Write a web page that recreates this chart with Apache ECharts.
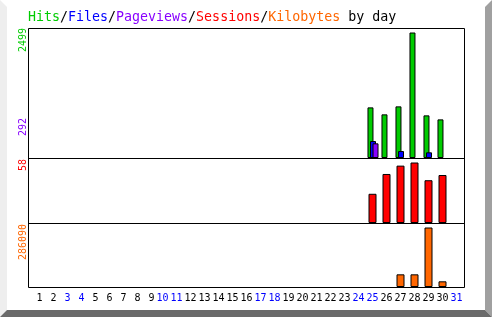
<!DOCTYPE html>
<html><head><meta charset="utf-8">
<script src="https://cdn.jsdelivr.net/npm/echarts@6/dist/echarts.min.js"></script>
<style>html,body{margin:0;padding:0;background:#fff}#c{width:492px;height:317px}</style>
</head><body><div id="c"></div>
<script>
// ---- data ----
const days = ['1','2','3','4','5','6','7','8','9','10','11','12','13','14','15','16','17','18','19','20','21','22','23','24','25','26','27','28','29','30','31'];
const weekendDays = ['3','4','10','11','17','18','24','25','31'];
const hits      = [0,0,0,0,0,0,0,0,0,0,0,0,0,0,0,0,0,0,0,0,0,0,0,0,1008,869,1028,2499,849,769,0];
const files     = [0,0,0,0,0,0,0,0,0,0,0,0,0,0,0,0,0,0,0,0,0,0,0,0,338,0,139,0,113,0,0];
const pageviews = [0,0,0,0,0,0,0,0,0,0,0,0,0,0,0,0,0,0,0,0,0,0,0,0,292,0,0,0,0,0,0];
const sessions  = [0,0,0,0,0,0,0,0,0,0,0,0,0,0,0,0,0,0,0,0,0,0,0,0,28,47,55,58,41,46,0];
const kilobytes = [0,0,0,0,0,0,0,0,0,0,0,0,0,0,0,0,0,0,0,0,0,0,0,0,0,0,60900,60900,286090,27310,0];

const C = {hits:'#00cc00', files:'#0000ff', pages:'#8800ff', sessions:'#ff0000', kbytes:'#ff6600'};
const MONO = '"DejaVu Sans Mono", "Liberation Mono", monospace';

const chart = echarts.init(document.getElementById('c'), null, {renderer:'canvas'});

// zero days draw no bar at all
const nz = arr => arr.map(v => (v > 0 ? v : '-'));

function xAxisFor(gi, showLabels) {
  return {
    type:'category', gridIndex: gi, data: days, boundaryGap: true,
    axisLine:{show:false}, axisTick:{show:false}, splitLine:{show:false},
    axisLabel: showLabels ? {
      show:true, interval:0, margin:6, fontFamily: MONO, fontSize:10,
      formatter: v => (v.length < 2 ? ' ' + v : v),
      color: v => (weekendDays.includes(v) ? '#0000ff' : '#000000')
    } : {show:false}
  };
}
function yAxisFor(gi, ratio) {
  return { type:'value', gridIndex: gi, min:0, max: v => v.max * ratio, show:false };
}
const barBorder = {borderColor:'#000', borderWidth:1};

const option = {
  animation:false,
  backgroundColor:'#ffffff',
  grid:[
    {left:30, width:434, top:28, height:130},
    {left:29.5, width:434, top:158, height:65},
    {left:29.5, width:434, top:223, height:64}
  ],
  xAxis:[xAxisFor(0,false), xAxisFor(1,false), xAxisFor(2,true)],
  yAxis:[yAxisFor(0,130/125.5), yAxisFor(1,65/60.5), yAxisFor(2,64/59.5)],
  series:[
    {name:'Hits', type:'bar', xAxisIndex:0, yAxisIndex:0, data:nz(hits), barWidth:6, barGap:'-58%',
     itemStyle:Object.assign({color:C.hits}, barBorder)},
    {name:'Files', type:'bar', xAxisIndex:0, yAxisIndex:0, data:nz(files), barWidth:6, barGap:'-58%',
     itemStyle:Object.assign({color:C.files}, barBorder)},
    {name:'Pageviews', type:'bar', xAxisIndex:0, yAxisIndex:0, data:nz(pageviews), barWidth:6, barGap:'-58%',
     itemStyle:Object.assign({color:C.pages}, barBorder)},
    {name:'Sessions', type:'bar', xAxisIndex:1, yAxisIndex:1, data:nz(sessions), barWidth:8,
     itemStyle:Object.assign({color:C.sessions}, barBorder)},
    {name:'Kilobytes', type:'bar', xAxisIndex:2, yAxisIndex:2, data:nz(kilobytes), barWidth:8,
     itemStyle:Object.assign({color:C.kbytes}, barBorder)}
  ],
  graphic:[
    // bevel border
    {type:'polygon', z:0, shape:{points:[[0,0],[7,7],[7,310],[0,317]]}, style:{fill:'#eeeeee'}},
    {type:'polygon', z:0, shape:{points:[[492,0],[492,317],[485,310],[485,7]]}, style:{fill:'#a0a0a0'}},
    {type:'polygon', z:0, shape:{points:[[0,317],[7,310],[485,310],[492,317]]}, style:{fill:'#6a6a6a'}},
    // frame and dividers
    {type:'rect', z:5, silent:true, shape:{x:28.5, y:28.5, width:436, height:259}, style:{fill:null, stroke:'#000', lineWidth:1}},
    {type:'line', z:5, shape:{x1:28, y1:158.5, x2:465, y2:158.5}, style:{stroke:'#000', lineWidth:1}},
    {type:'line', z:5, shape:{x1:28, y1:223.5, x2:465, y2:223.5}, style:{stroke:'#000', lineWidth:1}},
    // title
    {type:'text', z:6, x:28, y:18, style:{
      text:'{g|Hits}{k|/}{b|Files}{k|/}{p|Pageviews}{k|/}{r|Sessions}{k|/}{o|Kilobytes}{k| by day}',
      font:'13.3px ' + MONO, verticalAlign:'middle', align:'left',
      rich:{
        g:{fill:C.hits, fontFamily:MONO, fontSize:13.3},
        b:{fill:C.files, fontFamily:MONO, fontSize:13.3},
        p:{fill:C.pages, fontFamily:MONO, fontSize:13.3},
        r:{fill:C.sessions, fontFamily:MONO, fontSize:13.3},
        o:{fill:C.kbytes, fontFamily:MONO, fontSize:13.3},
        k:{fill:'#000000', fontFamily:MONO, fontSize:13.3}
      }}},
    // rotated max labels
    {type:'text', z:6, x:23, y:28, rotation:Math.PI/2, style:{text:String(Math.max(...hits)), fill:C.hits, font:'10px ' + MONO, align:'right', verticalAlign:'middle'}},
    {type:'text', z:6, x:23, y:118, rotation:Math.PI/2, style:{text:String(Math.max(...pageviews)), fill:C.pages, font:'10px ' + MONO, align:'right', verticalAlign:'middle'}},
    {type:'text', z:6, x:23, y:159, rotation:Math.PI/2, style:{text:String(Math.max(...sessions)), fill:C.sessions, font:'10px ' + MONO, align:'right', verticalAlign:'middle'}},
    {type:'text', z:6, x:23, y:224, rotation:Math.PI/2, style:{text:String(Math.max(...kilobytes)), fill:C.kbytes, font:'10px ' + MONO, align:'right', verticalAlign:'middle'}}
  ]
};
chart.setOption(option);
</script>
</body></html>
